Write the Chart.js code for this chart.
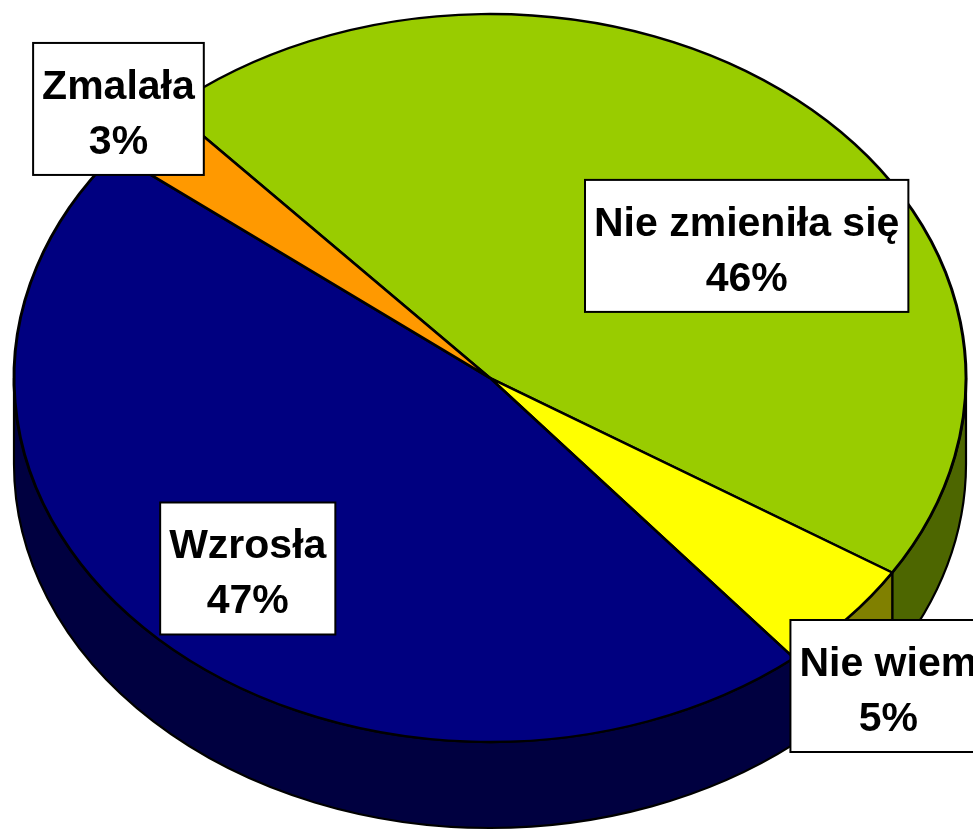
<!DOCTYPE html>
<html>
<head>
<meta charset="utf-8">
<script src="https://cdn.jsdelivr.net/npm/chart.js@4.4.0/dist/chart.umd.min.js"></script>
<style>
  html, body { margin: 0; padding: 0; background: #fff; }
  canvas { display: block; }
</style>
</head>
<body>
<canvas id="pieChart" width="973" height="830"></canvas>
<script>
const categories = ['Nie zmieniła się', 'Nie wiem', 'Wzrosła', 'Zmalała']
const values = [45.7, 5.0, 46.6, 2.7]
const topColors = ['#99CC00', '#FFFF00', '#000080', '#FF9900']
const sideColors = ['#4D6600', '#808000', '#000040', '#804D00']

// where the tilted pie sits on the page
const CX = 490, CY = 378, RX = 476, RY = 364, DEPTH = 86

// label boxes: [radius factor, angle shift in degrees]
const labelPlace = [[0.65, 16], [1.19, 4], [0.73, 0], [1.075, 0.5]]

const total = values.reduce((a, b) => a + b, 0)

// Fake 3D: draw the front walls, then squash the flat pie into an ellipse
const pie3d = {
    id: 'pie3d',
    beforeDatasetsDraw(chart) {
        const ctx = chart.ctx
        const arcs = chart.getDatasetMeta(0).data
        const spans = [[0, Math.PI], [2 * Math.PI, 3 * Math.PI], [-2 * Math.PI, -Math.PI]]

        arcs.forEach((arc, i) => {
            spans.forEach(([lo, hi]) => {
                const s = Math.max(arc.startAngle, lo)
                const e = Math.min(arc.endAngle, hi)
                if (e <= s) return
                ctx.beginPath()
                ctx.ellipse(CX, CY, RX, RY, 0, s, e)
                ctx.lineTo(CX + RX * Math.cos(e), CY + DEPTH + RY * Math.sin(e))
                ctx.ellipse(CX, CY + DEPTH, RX, RY, 0, e, s, true)
                ctx.closePath()
                ctx.fillStyle = sideColors[i]
                ctx.fill()
                ctx.lineWidth = 2.2
                ctx.strokeStyle = '#000'
                ctx.stroke()
            })
        })

        const a = arcs[0]
        ctx.save()
        ctx.translate(CX, CY)
        ctx.scale(RX / a.outerRadius, RY / a.outerRadius)
        ctx.translate(-a.x, -a.y)
    },
    afterDatasetsDraw(chart) {
        chart.ctx.restore()
    },
    afterDraw(chart) {
        const ctx = chart.ctx
        const arcs = chart.getDatasetMeta(0).data
        ctx.save()
        ctx.font = 'bold 41px "Liberation Sans", Arial, sans-serif'
        ctx.textAlign = 'center'
        ctx.textBaseline = 'alphabetic'
        arcs.forEach((arc, i) => {
            const [f, shift] = labelPlace[i]
            const t = (arc.startAngle + arc.endAngle) / 2 + shift * Math.PI / 180
            const x = CX + RX * f * Math.cos(t)
            const y = CY + RY * f * Math.sin(t)
            const pct = Math.round(values[i] / total * 100) + '%'
            const w = Math.max(ctx.measureText(categories[i]).width, ctx.measureText(pct).width) + 18
            const h = 132
            ctx.fillStyle = '#fff'
            ctx.fillRect(x - w / 2, y - h / 2, w, h)
            ctx.lineWidth = 2
            ctx.strokeStyle = '#000'
            ctx.strokeRect(x - w / 2, y - h / 2, w, h)
            ctx.fillStyle = '#000'
            ctx.fillText(categories[i], x, y - 10)
            ctx.fillText(pct, x, y + 45)
        })
        ctx.restore()
    }
}

const config = {
    type: 'pie',
    data: {
        labels: categories,
        datasets: [{
            data: values,
            backgroundColor: topColors,
            borderColor: '#000',
            borderWidth: 2.6
        }]
    },
    options: {
        responsive: false,
        animation: false,
        events: [],
        rotation: -42.2,
        layout: { padding: { top: -98, bottom: -24, left: 14, right: 7 } },
        plugins: {
            legend: { display: false },
            tooltip: { enabled: false }
        }
    },
    plugins: [pie3d]
}

const pieChart = new Chart(document.getElementById('pieChart'), config)
</script>
</body>
</html>
